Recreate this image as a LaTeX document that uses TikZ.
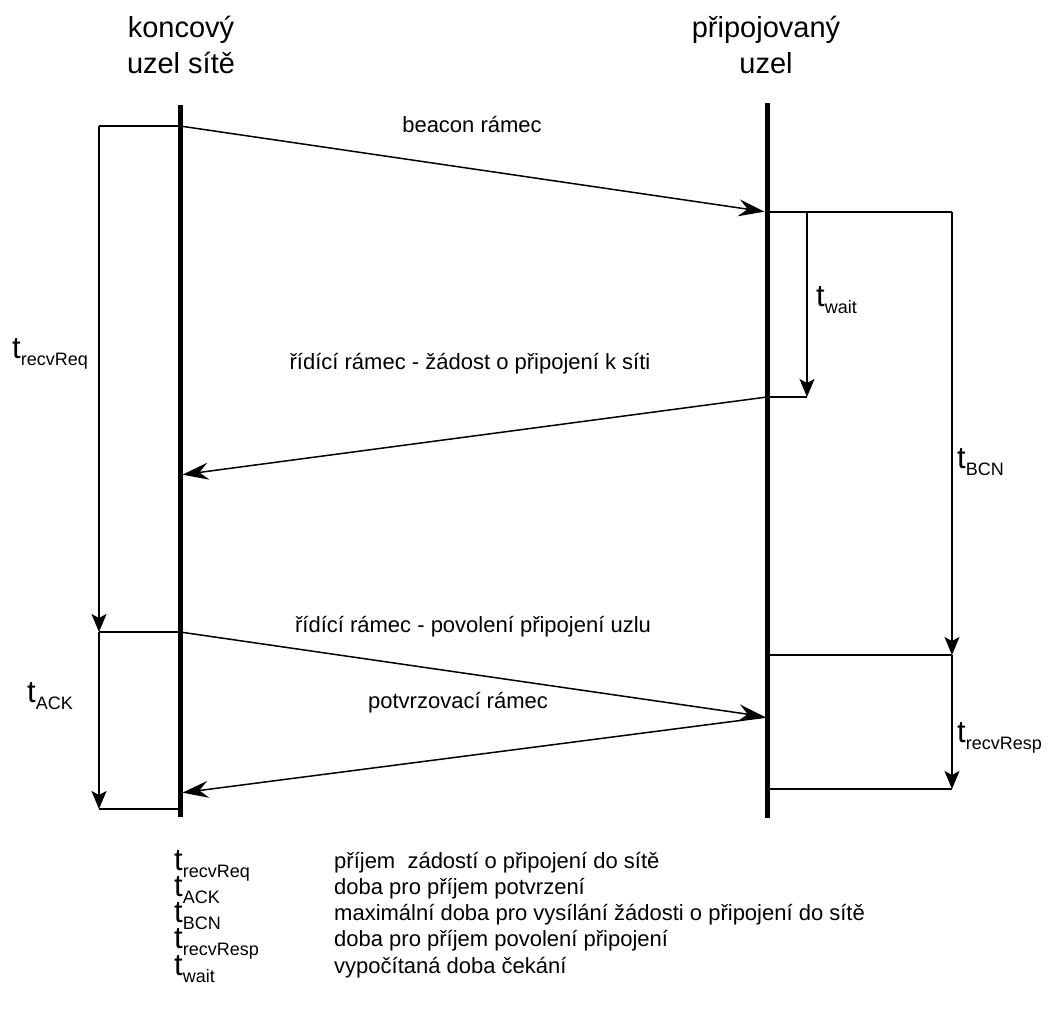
\documentclass[tikz,border=0pt]{standalone}
\usepackage{fontspec}
\setmainfont{Liberation Sans}
\usetikzlibrary{arrows.meta}
% time symbol with a subscript: large t, smaller lowered index
\newcommand\tsym[1]{{\fontsize{31}{31}\selectfont t}\raisebox{-7pt}{\fontsize{18}{18}\selectfont #1}}

\begin{document}
\begin{tikzpicture}[x=1pt,y=-1pt,
  lifeline/.style={line width=5pt},
  wire/.style={line width=1.5pt},
  msg/.style={wire,shorten >=2.5pt,-{Stealth[length=26pt,width=17pt,inset=9pt]}},
  span/.style={wire,-{Stealth[length=18pt,width=15pt,inset=4pt]}},
  hdr/.style={font=\fontsize{29}{36}\selectfont, inner sep=0pt, anchor=base},
  lbl/.style={font=\fontsize{22}{26}\selectfont, inner sep=0pt, anchor=base},
  tlbl/.style={inner sep=0pt, anchor=base west},
  desc/.style={font=\fontsize{22}{26}\selectfont, inner sep=0pt, anchor=base west},
]
\useasboundingbox (0,0) rectangle (1053,1017);

% participants
\node[hdr] (h1a) at (181,37) {koncový};
\node[hdr] (h1b) at (181,73) {uzel sítě};
\node[hdr] (h2a) at (766,37) {připojovaný};
\node[hdr] (h2b) at (766,73) {uzel};

% lifelines
\coordinate (Ltop) at (180,105);
\coordinate (Lbot) at (180,817);
\coordinate (Rtop) at (767,103);
\coordinate (Rbot) at (767,818);
\draw[lifeline] (Ltop) -- (Lbot);
\draw[lifeline] (Rtop) -- (Rbot);

% event points on the lifelines
\coordinate (Lbcn) at (180,126);
\coordinate (Rbcn) at (767,212);
\coordinate (Rreq) at (767,397);
\coordinate (Lreq) at (180,475);
\coordinate (Lper) at (180,632);
\coordinate (Rper) at (767,717);
\coordinate (Lack) at (180,793);
\coordinate (Lend) at (180,809);
\coordinate (Rresp) at (767,655);
\coordinate (Rend) at (767,789);

% left timing bracket
\coordinate (lb0) at (99,126);
\coordinate (lb1) at (99,632);
\coordinate (lb2) at (99,809);
\draw[wire] (Lbcn) -- (lb0);
\draw[span] (lb0) -- (lb1);
\draw[wire] (lb1) -- (Lper);
\draw[span] (lb1) -- (lb2);
\draw[wire] (lb2) -- (Lend);

% right timing bracket
\coordinate (rb0) at (952,212);
\coordinate (rb1) at (952,655);
\coordinate (rb2) at (952,789);
\draw[wire] (Rbcn) -- (rb0);
\draw[span] (rb0) -- (rb1);
\draw[wire] (rb1) -- (Rresp);
\draw[span] (rb1) -- (rb2);
\draw[wire] (rb2) -- (Rend);

% waiting interval
\coordinate (w0) at (807,212);
\coordinate (w1) at (807,397);
\draw[span] (w0) -- (w1);
\draw[wire] (w1) -- (Rreq);

% messages
\draw[msg] (Lbcn) -- (Rbcn);
\draw[msg] (Rreq) -- (Lreq);
\draw[msg] (Lper) -- (Rper);
\draw[msg] (Rper) -- (Lack);

\node[lbl] (m1) at (472,132) {beacon rámec};
\node[lbl] (m2) at (470,369) {řídící rámec - žádost o připojení k síti};
\node[lbl] (m3) at (473,632) {řídící rámec - povolení připojení uzlu};
\node[lbl] (m4) at (458,708) {potvrzovací rámec};

% interval names
\node[tlbl] (tReq) at (12,358) {\tsym{recvReq}};
\node[tlbl] (tWait) at (816,306) {\tsym{wait}};
\node[tlbl] (tBcn) at (957,468) {\tsym{BCN}};
\node[tlbl] (tAck) at (27,702) {\tsym{ACK}};
\node[tlbl] (tResp) at (957,742) {\tsym{recvResp}};

% legend
\node[tlbl] (k1) at (174,870) {\tsym{recvReq}};
\node[tlbl] (k2) at (174,896) {\tsym{ACK}};
\node[tlbl] (k3) at (174,922) {\tsym{BCN}};
\node[tlbl] (k4) at (174,948) {\tsym{recvResp}};
\node[tlbl] (k5) at (174,975) {\tsym{wait}};
\node[desc] (d1) at (334,868) {příjem\ \ zádostí o připojení do sítě};
\node[desc] (d2) at (334,894) {doba pro příjem potvrzení};
\node[desc] (d3) at (334,920) {maximální doba pro vysílání žádosti o připojení do sítě};
\node[desc] (d4) at (334,946) {doba pro příjem povolení připojení};
\node[desc] (d5) at (334,973) {vypočítaná doba čekání};
\end{tikzpicture}
\end{document}
